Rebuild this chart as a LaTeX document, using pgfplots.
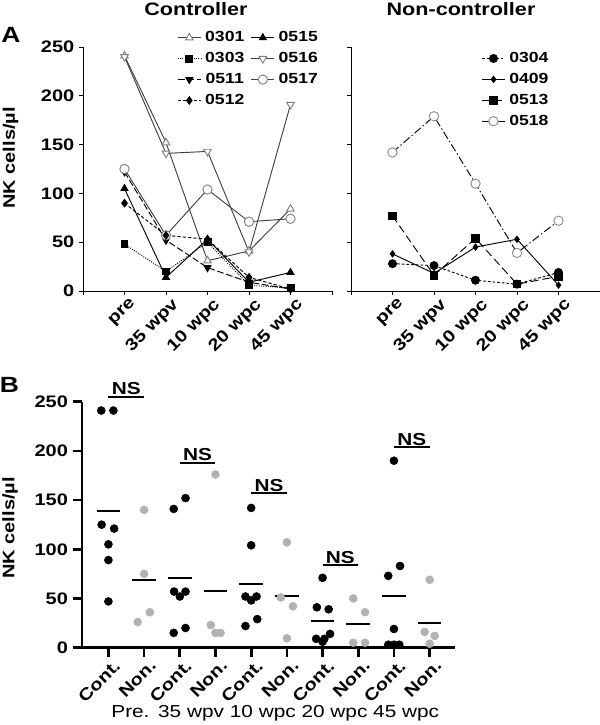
\documentclass[border=0pt]{standalone}
\usepackage{fontspec}
\setmainfont{Liberation Sans}[FakeStretch=1.2]
\usepackage{pgfplots}
\pgfplotsset{compat=1.18}

\pgfplotsset{
  panelA/.style={
    scale only axis, width=186.75pt, height=183pt,
    xmin=-1, xmax=5, ymin=0, ymax=250,
    axis x line=bottom, axis y line=left,
    axis line style={-, line width=0.7pt},
    tick align=outside, major tick length=3pt,
    tick style={black, line width=0.7pt},
    xtick={-1,0,1,2,3,4,5},
    xticklabels={,pre,35 wpv,10 wpc,20 wpc,45 wpc,},
    x tick label style={rotate=45, anchor=north east, xshift=5pt,
      font=\bfseries\fontsize{12.5}{14}\selectfont},
    ytick={0,50,100,150,200,250},
    /pgf/number format/assume math mode=true,
    y tick label style={font=\bfseries\fontsize{12.5}{14}\selectfont},
    clip=false,
    legend style={draw=none, fill=none, inner sep=0pt, row sep=2.5pt,
      font=\bfseries\fontsize{11}{12}\selectfont,
      /tikz/every odd column/.append style={column sep=1pt},
      /tikz/every even column/.append style={column sep=3pt}},
    every axis plot/.append style={line width=0.7pt},
  },
}

\begin{document}
\begin{tikzpicture}
\path[use as bounding box] (0,0) rectangle (450pt,543.75pt);

% panel labels and titles
\node[font=\bfseries\fontsize{16.5}{18}\selectfont] at (8.25pt,517.5pt) {A};
\node[font=\bfseries\fontsize{16.5}{18}\selectfont] at (7.1pt,255pt) {B};
\node[font=\bfseries\fontsize{13.5}{15}\selectfont] at (147pt,537pt) {Controller};
\node[font=\bfseries\fontsize{13.5}{15}\selectfont] at (345.75pt,537pt) {Non-controller};
\node[rotate=90, font=\bfseries\fontsize{12.5}{14}\selectfont] at (7.9pt,425.25pt) {NK cells/µl};
\node[rotate=90, font=\bfseries\fontsize{12.5}{14}\selectfont] at (7.5pt,147.75pt) {NK cells/µl};

% ---- A: controllers
\begin{axis}[panelA, at={(62.25pt,325.5pt)}, anchor=south west,
  legend columns=2,
  legend style={at={(rel axis cs:0.955,1.075)}, anchor=north east}]
\addplot[black!75, mark=triangle*, mark size=3.3pt,
  mark options={solid, fill=white, draw=black!50}]
  coordinates {(0,241) (1,152) (2,31) (3,41) (4,84)};
\addlegendentry{0301}
\addplot[black, mark=triangle*, mark size=3pt]
  coordinates {(0,105) (1,14) (2,53) (3,9) (4,19)};
\addlegendentry{0515}
\addplot[black, densely dotted, mark=square*, mark size=2.6pt, mark options={solid}]
  coordinates {(0,48) (1,20) (2,50) (3,6) (4,3)};
\addlegendentry{0303}
\addplot[black!75, mark=triangle*, mark size=3.3pt,
  mark options={solid, fill=white, draw=black!50, rotate=180}]
  coordinates {(0,240) (1,141) (2,143) (3,40) (4,191)};
\addlegendentry{0516}
\addplot[black, dash pattern=on 5pt off 2pt, mark=triangle*, mark size=3pt,
  mark options={solid, rotate=180}]
  coordinates {(0,122) (1,52) (2,24) (3,9) (4,2)};
\addlegendentry{0511}
\addplot[black!75, mark=*, mark size=3.5pt,
  mark options={solid, fill=white, draw=black!50}]
  coordinates {(0,125) (1,57) (2,104) (3,71) (4,74)};
\addlegendentry{0517}
\addplot[black, dash pattern=on 2.5pt off 1.5pt, mark=diamond*, mark size=2.8pt,
  mark options={solid}]
  coordinates {(0,90) (1,57) (2,53) (3,14) (4,2)};
\addlegendentry{0512}
\end{axis}

% ---- A: non-controllers
\begin{axis}[panelA, at={(263.25pt,325.5pt)}, anchor=south west,
  yticklabels={},
  legend style={at={(rel axis cs:0.805,0.99)}, anchor=north east}]
\addplot[black, dash pattern=on 2pt off 1.5pt, mark=*, mark size=3pt, mark options={solid}]
  coordinates {(0,28) (1,26) (2,11) (3,7) (4,19)};
\addlegendentry{0304}
\addplot[black, mark=diamond*, mark size=2.3pt]
  coordinates {(0,38) (1,18) (2,45) (3,53) (4,6)};
\addlegendentry{0409}
\addplot[black, dash pattern=on 6pt off 3pt, mark=square*, mark size=2.8pt, mark options={solid}]
  coordinates {(0,77) (1,16) (2,54) (3,7) (4,15)};
\addlegendentry{0513}
\addplot[black, dash pattern=on 6pt off 2pt on 1pt off 2pt, mark=*, mark size=3.5pt,
  mark options={solid, fill=white, draw=black!45}]
  coordinates {(0,142) (1,179) (2,110) (3,39) (4,72)};
\addlegendentry{0518}
\end{axis}

% ---- B: scatter with means
\begin{axis}[scale only axis, width=279.75pt, height=184.5pt,
  at={(61.5pt,58pt)}, anchor=south west,
  xmin=-0.74, xmax=9.71, ymin=0, ymax=250,
  axis x line=bottom, axis y line=left,
  axis line style={-, line width=2pt},
  tick align=outside, major tick length=7pt,
  tick style={black, line width=2pt},
  xtick={0,...,9},
  xticklabels={Cont.,Non.,Cont.,Non.,Cont.,Non.,Cont.,Non.,Cont.,Non.},
  x tick label style={rotate=45, anchor=north east, xshift=5pt,
    font=\bfseries\fontsize{12.5}{14}\selectfont},
  ytick={0,50,100,150,200,250},
  /pgf/number format/assume math mode=true,
  y tick label style={font=\bfseries\fontsize{12.5}{14}\selectfont},
  clip=false]
% controllers
\addplot[only marks, mark=*, mark size=3pt, black] coordinates {
  (-0.2,241) (0.14,241) (-0.19,125) (0.16,121) (0,105) (0,89) (0,47)
  (1.83,141) (2.16,152) (1.84,57) (2.16,57) (2,52) (1.83,15) (2.16,20)
  (4,142) (4,104) (3.84,52) (4.15,52) (4,48) (3.84,22) (4.17,29)
  (6,71) (5.84,41) (6.17,39) (5.82,9) (6.05,9) (6,6) (6.21,14)
  (8,190) (8.17,83) (7.84,73) (8,19) (7.84,3) (8,3) (8.15,3)};
% non-controllers
\addplot[only marks, mark=*, mark size=3pt, color=black!30,
  mark options={draw=black!30, fill=black!30}] coordinates {
  (1,140) (1,75) (0.82,26) (1.16,36)
  (3,176) (2.87,23) (3,15) (3.14,15)
  (5,107) (4.83,51) (5.17,42) (5,9.5)
  (6.86,50) (7.19,36) (6.86,5) (7.19,5)
  (9,69) (8.86,16) (9.14,12) (9,4)};
% group means
\addplot[black, line width=1.5pt, unbounded coords=jump] coordinates {
  (-0.33,138.5) (0.33,138.5) (0.5,nan)
  (0.67,68.4) (1.33,68.4) (1.5,nan)
  (1.67,70.5) (2.33,70.5) (2.5,nan)
  (2.67,57.6) (3.33,57.6) (3.5,nan)
  (3.67,65) (4.33,65) (4.5,nan)
  (4.67,52.5) (5.33,52.5) (5.5,nan)
  (5.67,26.8) (6.33,26.8) (6.5,nan)
  (6.67,24) (7.33,24) (7.5,nan)
  (7.67,52.8) (8.33,52.8) (8.5,nan)
  (8.67,25.4) (9.33,25.4)};
% NS brackets
\addplot[black, line width=1.3pt, unbounded coords=jump] coordinates {
  (0,255) (1,255) (1.5,nan)
  (2,188) (3,188) (3.5,nan)
  (4,157) (5,157) (5.5,nan)
  (6,84) (7,84) (7.5,nan)
  (8,204) (9,204)};
\foreach \xx/\yy in {0.5/255, 2.5/188, 4.5/157, 6.5/84, 8.5/204}{
  \edef\tmp{\noexpand\node[anchor=south, inner sep=1pt, font=\noexpand\bfseries\noexpand\fontsize{13}{15}\noexpand\selectfont] at (axis cs:\xx,\yy) {NS};}
  \tmp
}
\end{axis}

\node[anchor=west, font=\fontsize{13}{15}\selectfont] at (80pt,9pt)
  {Pre.\hspace{0.5em}35 wpv 10 wpc 20 wpc 45 wpc};
\end{tikzpicture}
\end{document}
